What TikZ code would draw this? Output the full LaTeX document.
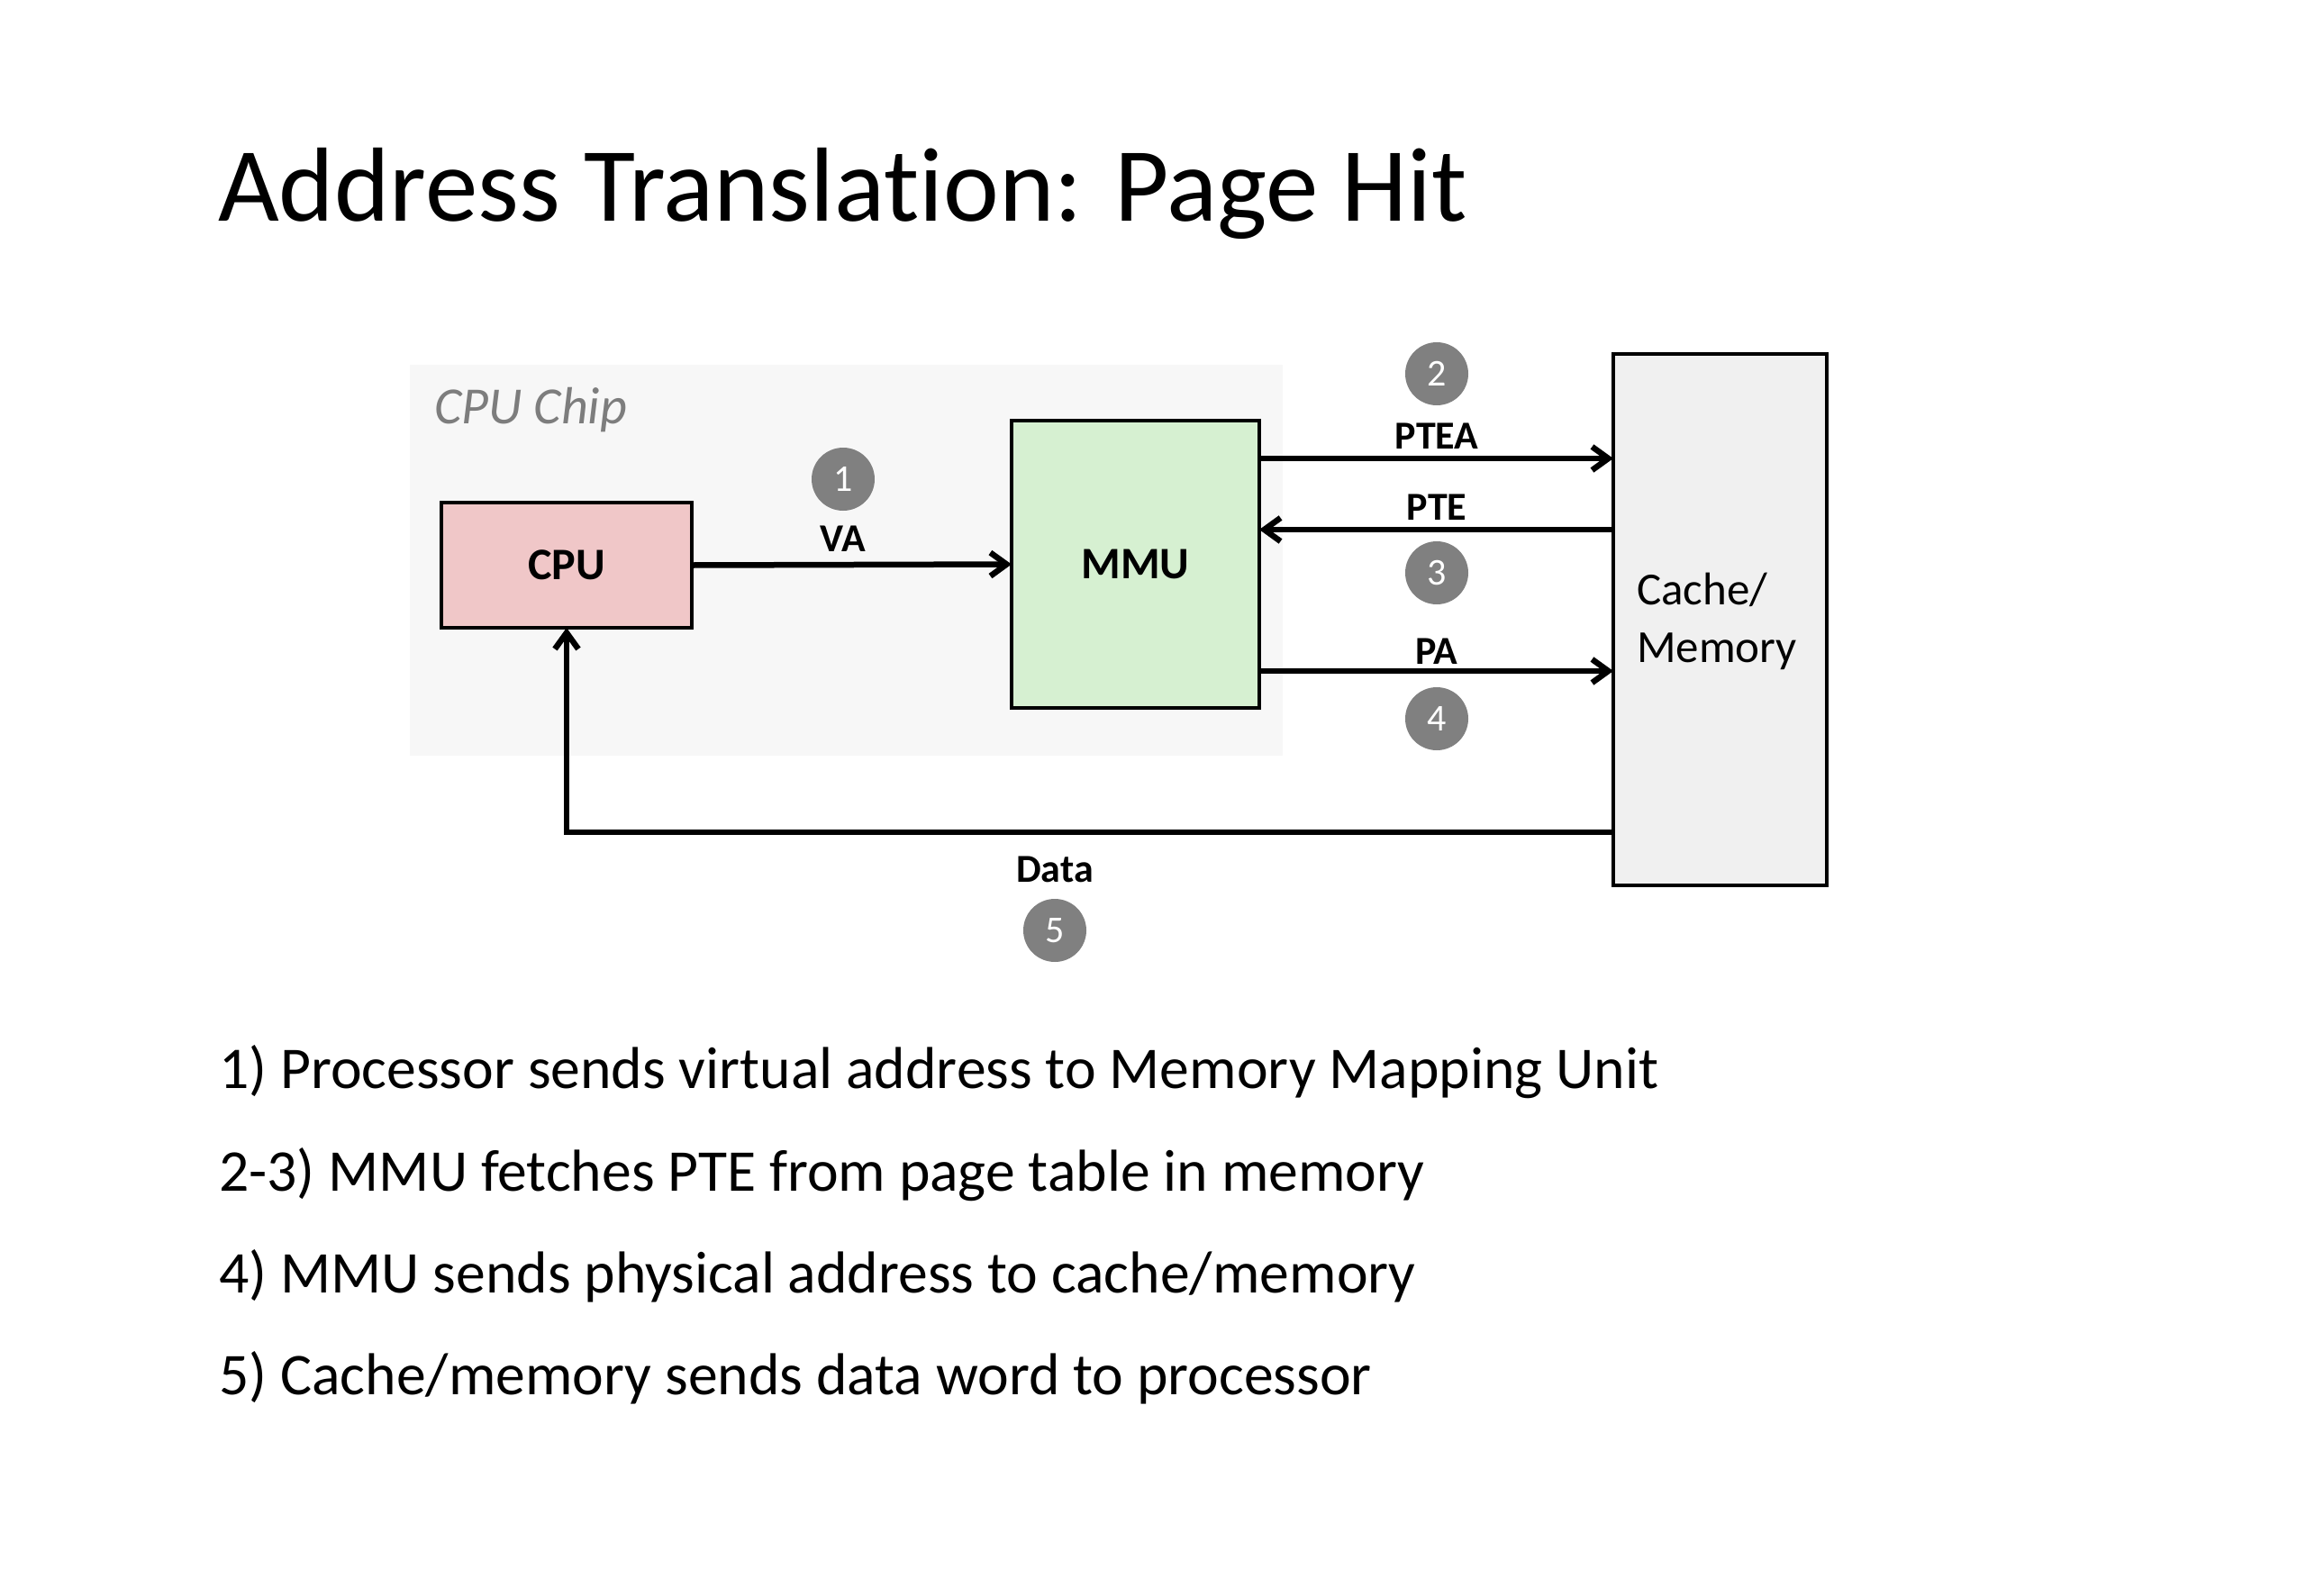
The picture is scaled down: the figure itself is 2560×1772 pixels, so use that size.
\documentclass[tikz,border=0pt]{standalone}
\usepackage{fontspec}
\setmainfont{Carlito}[Ligatures=NoCommon,Contextuals=NoAlternate]
\usetikzlibrary{arrows.meta,positioning}
\definecolor{cpufill}{RGB}{240,199,200}
\definecolor{mmufill}{RGB}{214,240,209}
\definecolor{memfill}{RGB}{240,240,240}
\definecolor{chipfill}{RGB}{247,247,247}
\definecolor{badge}{RGB}{128,128,128}
\definecolor{chiptext}{RGB}{125,125,125}
\tikzset{
  unitbox/.style={draw=black, line width=3.5pt, inner sep=0pt, outer sep=0pt},
  conn/.style={line width=6.5pt, -{Straight Barb[length=18pt,width=26pt,line width=6.5pt]}},
  lbl/.style={font=\fontsize{44}{50}\selectfont\bfseries, inner sep=0pt},
  numbadge/.style={circle, fill=badge, minimum size=70pt, inner sep=0pt, text=white, font=\fontsize{42}{46}\selectfont},
  bodytext/.style={anchor=base west, inner sep=0pt, font=\fontsize{65.7}{70}\selectfont}
}
\begin{document}
\begin{tikzpicture}[x=1pt,y=-1pt]
\useasboundingbox (0,0) rectangle (2560,1772);
\fill[white] (0,0) rectangle (2560,1772);
% title
\node[anchor=base west, inner sep=0pt, font=\fontsize{117}{125}\selectfont] (title) at (242,245) {Address Translation: Page Hit};
% chip background
\fill[chipfill] (455,405) rectangle (1424,839);
\node[anchor=west, inner sep=0pt, text=chiptext, font=\fontsize{58}{60}\selectfont\itshape] (chip) at (482,455) {CPU Chip};
% boxes
\node[unitbox, fill=cpufill, minimum width=278pt, minimum height=139pt, font=\fontsize{50}{55}\selectfont\bfseries] (cpu) at (629,627.5) {CPU};
\node[unitbox, fill=mmufill, minimum width=275pt, minimum height=319pt, font=\fontsize{50}{55}\selectfont\bfseries] (mmu) at (1260.5,626.5) {MMU};
\node[unitbox, fill=memfill, minimum width=237pt, minimum height=590pt] (mem) at (1909.5,688) {};
\node[anchor=west, inner sep=0pt, align=left, font=\fontsize{51}{64}\selectfont] (memtext) at (1817,690) {Cache/\\Memory};
% helper coordinates for arrow heights
\coordinate (yptea) at (0,509);
\coordinate (ypte) at (0,588);
\coordinate (ypa) at (0,745);
\coordinate (ydata) at (0,924);
% connectors
\draw[conn] (cpu.east) -- (mmu.west);
\draw[conn] (mmu.east |- yptea) -- (mem.west |- yptea);
\draw[conn] (mem.west |- ypte) -- (mmu.east |- ypte);
\draw[conn] (mmu.east |- ypa) -- (mem.west |- ypa);
\draw[conn, line join=miter] (mem.west |- ydata) -- (cpu.south |- ydata) -- (cpu.south);
% labels
\node[lbl] (lva) at (936,598) {VA};
\node[lbl] (lptea) at (1595,484) {PTEA};
\node[lbl] (lpte) at (1595,563) {PTE};
\node[lbl] (lpa) at (1595,723) {PA};
\node[lbl] (ldata) at (1171,965) {Data};
% badges
\node[numbadge] (n1) at (936,532) {1};
\node[numbadge] (n2) at (1595,415) {2};
\node[numbadge] (n3) at (1595,636) {3};
\node[numbadge] (n4) at (1595,798) {4};
\node[numbadge] (n5) at (1171,1033) {5};
% body text
\node[bodytext] (t1) at (243,1208) {1) Processor sends virtual address to Memory Mapping Unit};
\node[bodytext] (t2) at (243,1322) {2-3) MMU fetches PTE from page table in memory};
\node[bodytext] (t3) at (243,1435) {4) MMU sends physical address to cache/memory};
\node[bodytext] (t4) at (243,1548) {5) Cache/memory sends data word to processor};
\end{tikzpicture}
\end{document}
